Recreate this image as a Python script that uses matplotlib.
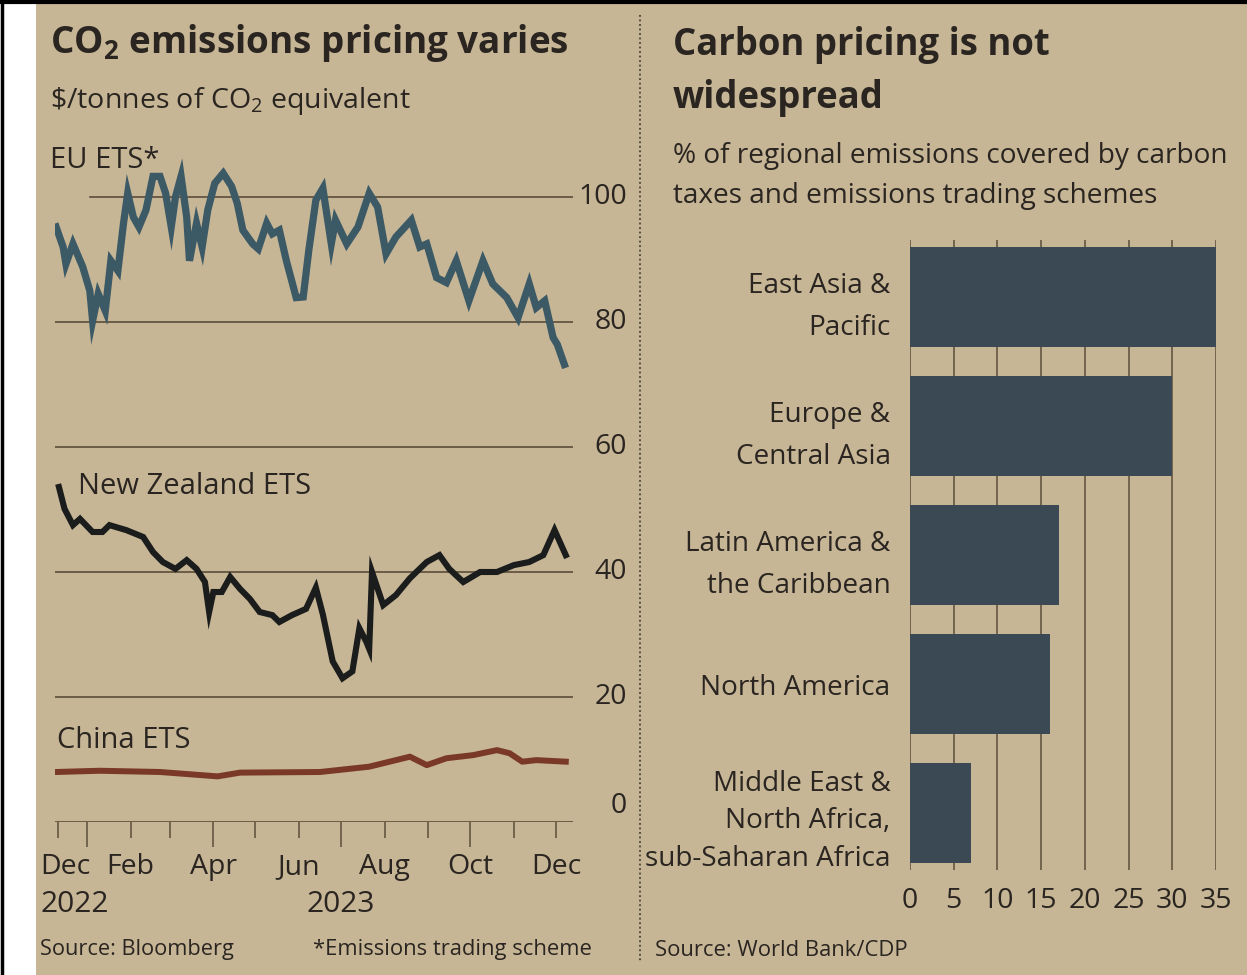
import matplotlib
matplotlib.use("Agg")
import matplotlib.pyplot as plt
import matplotlib.dates as mdates
import matplotlib.transforms as mtransforms
from matplotlib.lines import Line2D
from matplotlib.patches import Rectangle
import pandas as pd

# ---------------- data ----------------
eu_dates = ["2022-12-10", "2022-12-15", "2022-12-17", "2022-12-22", "2022-12-29",
            "2023-01-03", "2023-01-05", "2023-01-09", "2023-01-14", "2023-01-18",
            "2023-01-23", "2023-01-27", "2023-01-30", "2023-02-03", "2023-02-07",
            "2023-02-12", "2023-02-17", "2023-02-22", "2023-02-26", "2023-03-02",
            "2023-03-05", "2023-03-09", "2023-03-13", "2023-03-15", "2023-03-20",
            "2023-03-24", "2023-03-28", "2023-04-02", "2023-04-08", "2023-04-14",
            "2023-04-18", "2023-04-22", "2023-04-29", "2023-05-03", "2023-05-09",
            "2023-05-13", "2023-05-18", "2023-05-23", "2023-05-30", "2023-06-04",
            "2023-06-08", "2023-06-13", "2023-06-18", "2023-06-24", "2023-06-27",
            "2023-07-05", "2023-07-13", "2023-07-21", "2023-07-27", "2023-08-02",
            "2023-08-09", "2023-08-20", "2023-08-26", "2023-08-31", "2023-09-07",
            "2023-09-14", "2023-09-21", "2023-09-30", "2023-10-10", "2023-10-17",
            "2023-10-27", "2023-11-04", "2023-11-12", "2023-11-17", "2023-11-23",
            "2023-11-29", "2023-12-02", "2023-12-07"]
eu_values = [95.2, 92.0, 89.3, 92.5, 88.8,
             85.0, 80.2, 84.5, 81.8, 89.8,
             88.2, 95.8, 100.6, 96.8, 95.2,
             97.9, 103.3, 103.3, 100.6, 95.2,
             100.0, 103.3, 96.8, 89.8, 95.8,
             92.0, 97.9, 102.2, 103.8, 101.7,
             99.0, 94.7, 92.5, 91.7, 95.8,
             94.1, 94.7, 89.8, 83.9, 84.0,
             91.5, 99.5, 101.4, 92.5, 96.3,
             92.5, 95.2, 100.6, 98.4, 90.9,
             93.6, 96.3, 92.0, 92.5, 87.1,
             86.3, 89.8, 83.4, 89.8, 86.1,
             83.9, 80.7, 86.1, 82.3, 83.4,
             77.5, 76.4, 73.2]

nz_dates = ["2022-12-12", "2022-12-16", "2022-12-22", "2022-12-27", "2023-01-05",
            "2023-01-12", "2023-01-17", "2023-01-29", "2023-02-10", "2023-02-17",
            "2023-02-24", "2023-03-05", "2023-03-13", "2023-03-20", "2023-03-26",
            "2023-03-29", "2023-04-01", "2023-04-07", "2023-04-13", "2023-04-20",
            "2023-04-27", "2023-05-04", "2023-05-13", "2023-05-18", "2023-05-27",
            "2023-06-06", "2023-06-13", "2023-06-18", "2023-06-25", "2023-07-02",
            "2023-07-09", "2023-07-14", "2023-07-19", "2023-07-21", "2023-07-23",
            "2023-07-31", "2023-08-09", "2023-08-19", "2023-08-31", "2023-09-09",
            "2023-09-16", "2023-09-26", "2023-10-08", "2023-10-20", "2023-11-01",
            "2023-11-12", "2023-11-22", "2023-11-30", "2023-12-06", "2023-12-08"]
nz_values = [53.6, 50.1, 47.5, 48.5, 46.4,
             46.4, 47.5, 46.7, 45.6, 43.2,
             41.6, 40.5, 41.9, 40.5, 38.4,
             33.6, 36.8, 36.8, 39.2, 37.3,
             35.7, 33.6, 33.1, 32.0, 33.1,
             34.1, 37.5, 33.2, 25.7, 23.0,
             24.1, 31.0, 28.8, 27.7, 40.0,
             34.7, 36.3, 39.0, 41.6, 42.7,
             40.5, 38.4, 40.0, 40.0, 41.1,
             41.6, 42.7, 46.7, 43.7, 42.7]

cn_dates = ["2022-12-10", "2023-01-10", "2023-02-22", "2023-04-04", "2023-04-20",
            "2023-06-16", "2023-07-21", "2023-08-19", "2023-08-31", "2023-09-14",
            "2023-10-03", "2023-10-20", "2023-10-29", "2023-11-07", "2023-11-17",
            "2023-12-08"]
cn_values = [8.0, 8.2, 8.0, 7.3, 7.9,
             8.0, 8.85, 10.45, 9.1, 10.2,
             10.7, 11.5, 11.0, 9.65, 9.9,
             9.65]

price_ticks = [0, 20, 40, 60, 80, 100]
month_labels = ["Feb", "Apr", "Jun", "Aug", "Oct", "Dec"]
month_label_dates = ["2023-02-01", "2023-04-01", "2023-06-01", "2023-08-01",
                     "2023-10-01", "2023-12-01"]

regions = ["East Asia &\nPacific", "Europe &\nCentral Asia",
           "Latin America &\nthe Caribbean", "North America",
           "Middle East &\nNorth Africa,\nsub-Saharan Africa"]
coverage = [35, 30, 17, 16, 7]
coverage_ticks = [0, 5, 10, 15, 20, 25, 30, 35]

# ---------------- style ----------------
W, H = 1247, 975
BG = "#c6b696"
TXT = "#2a2520"
GRID = "#5b4d3a"
EU_C = "#3c5966"
NZ_C = "#1b1c1c"
CN_C = "#7a3826"
BAR_C = "#3b4955"
FONT = ["Open Sans", "DejaVu Sans"]
plt.rcParams["font.family"] = FONT
plt.rcParams["mathtext.fontset"] = "custom"
plt.rcParams["mathtext.rm"] = "Open Sans"
plt.rcParams["mathtext.bf"] = "Open Sans:bold"

fig = plt.figure(figsize=(W / 100, H / 100), dpi=100, facecolor=BG)


def fx(px):
    return px / W


def fy(py):
    return 1 - py / H


# white strip on the left and black border lines (photo edges)
fig.patches.append(Rectangle((0, 0), fx(36), 1, transform=fig.transFigure,
                             facecolor="white", edgecolor="none", zorder=0))
fig.add_artist(Line2D([fx(2), fx(2)], [0, 1], color="black", lw=2.5))
fig.add_artist(Line2D([0, 1], [fy(2), fy(2)], color="black", lw=3))

# ---------------- left chart ----------------
d0 = mdates.date2num(pd.Timestamp("2023-01-01"))
ppd = 1.404  # pixels per day


def xdate(px):
    return d0 + (px - 87) / ppd


ax1 = fig.add_axes([fx(55), fy(822), fx(573) - fx(55), fy(134.5) - fy(822)])
ax1.set_facecolor("none")
ax1.set_xlim(xdate(55), xdate(573))
ax1.set_ylim(0, 110)
for s in ax1.spines.values():
    s.set_visible(False)

for v in price_ticks:
    xmin = 0.068 if v == 100 else 0.0
    ax1.axhline(v, xmin=xmin, xmax=1, color=GRID, lw=1.2, zorder=1)

ax1.plot(pd.to_datetime(eu_dates), eu_values, color=EU_C, lw=5.2,
         solid_joinstyle="miter", zorder=3)
ax1.plot(pd.to_datetime(nz_dates), nz_values, color=NZ_C, lw=4.4,
         solid_joinstyle="miter", zorder=3)
ax1.plot(pd.to_datetime(cn_dates), cn_values, color=CN_C, lw=4.3, zorder=3)

major = pd.to_datetime(["2023-01-01", "2023-04-01", "2023-07-01", "2023-10-01"])
minor = pd.to_datetime(["2022-12-11", "2023-02-01", "2023-03-01", "2023-05-01",
                        "2023-06-01", "2023-08-01", "2023-09-01", "2023-11-01",
                        "2023-12-01"])
ax1.set_xticks(major)
ax1.set_xticks(minor, minor=True)
ax1.tick_params(axis="x", which="major", length=18, width=1.1, color=GRID,
                direction="out", labelbottom=False)
ax1.tick_params(axis="x", which="minor", length=11.5, width=1.1, color=GRID,
                direction="out", labelbottom=False)
ax1.set_yticks([])

for lab, d in zip(month_labels, month_label_dates):
    ax1.text(pd.Timestamp(d), -7.2, lab, ha="center", va="center",
             fontsize=20.5, color=TXT, clip_on=False)
ax1.text(pd.Timestamp("2022-11-29"), -7.2, "Dec", ha="left", va="center",
         fontsize=20.5, color=TXT, clip_on=False)
ax1.text(pd.Timestamp("2022-11-29"), -13.2, "2022", ha="left", va="center",
         fontsize=21.5, color=TXT, clip_on=False)
ax1.text(pd.Timestamp("2023-07-01"), -13.2, "2023", ha="center", va="center",
         fontsize=21.5, color=TXT, clip_on=False)

trans = mtransforms.blended_transform_factory(ax1.transAxes, ax1.transData)
for v in price_ticks:
    yy = 2.5 if v == 0 else v
    ax1.text((627 - 55) / 518, yy, str(v), transform=trans, ha="right",
             va="center", fontsize=20.5, color=TXT, clip_on=False)

fig.text(fx(50), fy(43), r"CO$_\mathbf{2}$ emissions pricing varies", fontsize=26.6,
         fontweight="bold", color=TXT, va="center", ha="left")
fig.text(fx(50), fy(101), r"\$/tonnes of CO$_2$ equivalent",
         fontsize=20.5, color=TXT, va="center", ha="left")
fig.text(fx(50), fy(160), "EU ETS*", fontsize=21, color=TXT, va="center", ha="left")
fig.text(fx(78), fy(487), "New Zealand ETS", fontsize=21, color=TXT,
         va="center", ha="left")
fig.text(fx(57), fy(741), "China ETS", fontsize=21, color=TXT, va="center",
         ha="left")
fig.text(fx(40), fy(950), "Source: Bloomberg", fontsize=15.7, color=TXT,
         va="center", ha="left")
fig.text(fx(313), fy(950), "*Emissions trading scheme", fontsize=15.8,
         color=TXT, va="center", ha="left")

# dotted separator
fig.add_artist(Line2D([fx(640), fx(640)], [fy(15), fy(962)], color="#4a4238",
                      lw=1.3, linestyle=(0, (1, 1.5))))

# ---------------- right chart ----------------
ax2 = fig.add_axes([fx(910), fy(870), fx(1216) - fx(910), fy(240) - fy(870)])
ax2.set_facecolor("none")
ax2.set_xlim(0, 35)
ax2.set_ylim(4.44, -0.44)
for s in ax2.spines.values():
    s.set_visible(False)
for v in coverage_ticks:
    ax2.axvline(v, color=GRID, lw=1.1, zorder=1)
ax2.barh(range(len(regions)), coverage, height=0.775, color=BAR_C, zorder=2)
ax2.set_yticks(range(len(regions)))
ax2.set_yticklabels(regions, fontsize=20.1, color=TXT)
for t in ax2.get_yticklabels():
    t.set_linespacing(1.45 if t.get_text().count("\n") > 1 else 1.66)
ax2.tick_params(axis="y", length=0, pad=14)
ax2.set_xticks(coverage_ticks)
ax2.set_xticklabels([str(v) for v in coverage_ticks], fontsize=20.5, color=TXT)
ax2.tick_params(axis="x", length=0, pad=12)

fig.text(fx(673), fy(71.5), "Carbon pricing is not\nwidespread", fontsize=26.3,
         fontweight="bold", color=TXT, va="center", ha="left", linespacing=1.54)
fig.text(fx(673), fy(176), "% of regional emissions covered by carbon\n"
         "taxes and emissions trading schemes", fontsize=20.2, color=TXT,
         va="center", ha="left", linespacing=1.6)
fig.text(fx(655), fy(950), "Source: World Bank/CDP", fontsize=15.8, color=TXT,
         va="center", ha="left")

fig.savefig("out.png", dpi=100, facecolor=BG)
